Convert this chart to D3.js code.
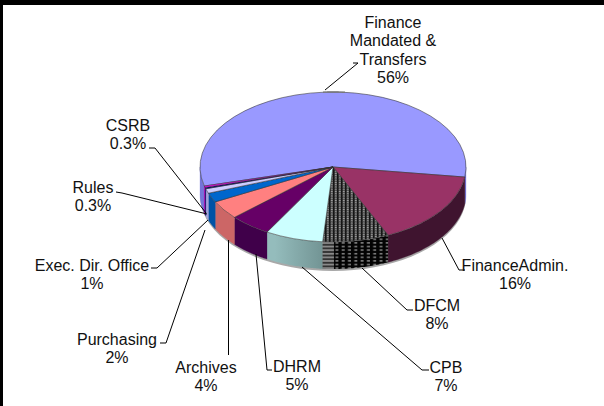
<!DOCTYPE html>
<html>
<head>
<meta charset="utf-8">
<script src="https://cdn.jsdelivr.net/npm/d3@7/dist/d3.min.js"></script>
<style>
  html, body { margin: 0; padding: 0; background: #fff; }
  svg { display: block; }
  text { font-family: "Liberation Sans", Arial, sans-serif; font-size: 16px; fill: #111; text-anchor: middle; }
</style>
</head>
<body>
<svg id="chart" width="604" height="406"></svg>
<script>
// Budget share by unit, clockwise from the left edge of the largest slice.
const categories = ["Finance Mandated & Transfers", "Finance Admin.", "DFCM", "CPB", "DHRM",
                    "Archives", "Purchasing", "Exec. Dir. Office", "Rules", "CSRB"];
const shares = [56, 16, 8, 7, 5, 4, 2, 1, 0.3, 0.3];
const topColors = ["#9999ff", "#993366", "url(#meshTop)", "#ccffff", "#660066",
                   "#ff8080", "#0066cc", "#ccccff", "#000080", "#ff00ff"];
const sideColors = ["#7474d8", "#3f142f", "url(#meshSide)", "url(#cpbSide)", "#40004a",
                    "#cc6666", "#0052a5", "#a3a3dc", "#000060", "#b000b0"];

// Label placement: wrapped lines, centre x, first baseline, and the leader's elbow points.
const labelLines = [["Finance", "Mandated &", "Transfers"], ["Finance Admin."], ["DFCM"], ["CPB"], ["DHRM"],
                    ["Archives"], ["Purchasing"], ["Exec. Dir. Office"], ["Rules"], ["CSRB"]];
const labelX = [393, 515, 437, 446, 297, 206, 117, 92, 93, 128];
const labelY = [28, 271, 311, 373, 372, 373, 345, 271, 193, 131];
const leaderElbows = [[[358, 63], [353, 63]], [[459, 270], [465, 270]], [[407, 310], [413, 310]],
                      [[422, 370], [429, 370]], [[267, 370], [272, 370]], [[228.5, 355]],
                      [[166, 343], [160, 343]], [[157, 268], [151, 268]], [[122, 193], [116, 192]],
                      [[155, 148], [149, 148]]];
const leaderStarts = [[325, 90], [442, 238], [362, 268], [302, 267], [256, 254], [228.5, 240],
                      [205, 230], [208, 220], [207, 214], [206, 213]];

const cx = 333, cy = 167, rx = 133, ry = 75, depth = 27;
const svg = d3.select("#chart");

// Fills for the meshed slice and the shaded wall.
const defs = svg.append("defs");
const meshTop = defs.append("pattern").attr("id", "meshTop").attr("patternUnits", "userSpaceOnUse")
  .attr("width", 4).attr("height", 4);
meshTop.append("rect").attr("width", 4).attr("height", 4).attr("fill", "#6a6a6a");
meshTop.append("rect").attr("width", 1.5).attr("height", 4).attr("fill", "#111");
meshTop.append("rect").attr("y", 1).attr("width", 4).attr("height", 1.2).attr("fill", "#1c1c1c");
meshTop.append("rect").attr("x", 2).attr("y", 2.4).attr("width", 1.5).attr("height", 1).attr("fill", "#ccc");
const meshSide = defs.append("pattern").attr("id", "meshSide").attr("patternUnits", "userSpaceOnUse")
  .attr("width", 6.3).attr("height", 3.6);
meshSide.append("rect").attr("width", 6.3).attr("height", 3.6).attr("fill", "#030303");
meshSide.append("rect").attr("x", 1.5).attr("y", 1).attr("width", 3).attr("height", 1.4).attr("fill", "#8c8c8c");
const stripeSide = defs.append("pattern").attr("id", "stripeSide").attr("patternUnits", "userSpaceOnUse")
  .attr("width", 8).attr("height", 3.6);
stripeSide.append("rect").attr("width", 8).attr("height", 3.6).attr("fill", "#333");
stripeSide.append("rect").attr("y", 1).attr("width", 8).attr("height", 1.5).attr("fill", "#999");
const cpbSide = defs.append("linearGradient").attr("id", "cpbSide")
  .attr("gradientUnits", "userSpaceOnUse").attr("x1", 275).attr("x2", 329).attr("y1", 0).attr("y2", 0);
cpbSide.append("stop").attr("offset", 0).attr("stop-color", "#94bcbc");
cpbSide.append("stop").attr("offset", 1).attr("stop-color", "#6e8f8f");

// Outer frame: heavier along the top, thinner along the left.
svg.append("rect").attr("width", 604).attr("height", 5).attr("fill", "#000");
svg.append("rect").attr("width", 3).attr("height", 406).attr("fill", "#000");

// Slices begin left of twelve o'clock; the rotation lands the first slice's end just below the right edge.
const startAngle = 255.3 * Math.PI / 180;
const pie = d3.pie().sort(null).startAngle(startAngle).endAngle(startAngle + 2 * Math.PI);
const slices = pie(shares);

const edgeX = a => cx + rx * Math.sin(a);
const edgeY = a => cy - ry * Math.cos(a);

// Wall: an area between the rim and the rim dropped by the disc's depth, front half only.
const wall = d3.area().x(edgeX).y0(edgeY).y1(a => edgeY(a) + depth);
const sweep = (a0, a1) => d3.range(0, 41).map(i => a0 + (a1 - a0) * i / 40);
function wallAngles(s) {
  const spans = [];
  for (const shift of [0, 2 * Math.PI]) {
    const a0 = Math.max(s.startAngle - shift, Math.PI / 2);
    const a1 = Math.min(s.endAngle - shift, 3 * Math.PI / 2);
    if (a1 > a0) spans.push(sweep(a0, a1));
  }
  return spans;
}

// Soft drop shadow under the front rim.
svg.append("path").attr("d", wall(sweep(Math.PI / 2, 3 * Math.PI / 2)))
  .attr("fill", "#a8a8a8").attr("transform", "translate(0,2)");

const walls = svg.append("g");
slices.forEach((s, i) => {
  wallAngles(s).forEach(span => {
    walls.append("path").attr("d", wall(span)).attr("fill", sideColors[i])
      .attr("stroke", sideColors[i].startsWith("url") ? "none" : sideColors[i]).attr("stroke-width", 0.3);
  });
});

// The mesh slice's wall turns to plain stripes where it meets the next slice.
const meshEnd = slices[2].endAngle;
walls.append("path").attr("d", wall(sweep(meshEnd - 0.085, meshEnd))).attr("fill", "url(#stripeSide)");

// Top face: a circular pie squashed into an ellipse.
const arc = d3.arc().innerRadius(0).outerRadius(rx);
svg.append("g").attr("transform", `translate(${cx},${cy}) scale(1,${ry / rx})`)
  .selectAll("path").data(slices).join("path")
  .attr("d", arc)
  .attr("fill", (d, i) => topColors[i])
  .attr("stroke", "#333")
  .attr("stroke-width", 0.7)
  .attr("stroke-opacity", 0.8)
  .attr("vector-effect", "non-scaling-stroke");

// Thicker grey edge at the back of the rim, where the top leader lands.
svg.append("path")
  .attr("d", d3.line().x(edgeX).y(edgeY)(sweep(-0.075, 0.09)))
  .attr("fill", "none").attr("stroke", "#777").attr("stroke-width", 1.4);

// Leader lines.
const leaderLine = d3.line();
svg.append("g").selectAll("path").data(categories).join("path")
  .attr("d", (d, i) => leaderLine([leaderStarts[i], ...leaderElbows[i]]))
  .attr("fill", "none").attr("stroke", "#000").attr("stroke-width", 1);

// Labels: the category lines followed by the share.
const lineStep = 18.4;
const labels = svg.append("g").selectAll("text").data(categories).join("text")
  .attr("x", (d, i) => labelX[i]).attr("y", (d, i) => labelY[i]);
labels.each(function (d, i) {
  const lines = labelLines[i].concat(shares[i] + "%");
  d3.select(this).selectAll("tspan").data(lines).join("tspan")
    .attr("x", labelX[i])
    .attr("dy", (l, k) => k === 0 ? 0 : lineStep)
    .attr("word-spacing", l => l === "Finance Admin." ? -3.5 : null)
    .text(l => l);
});
</script>
</body>
</html>
